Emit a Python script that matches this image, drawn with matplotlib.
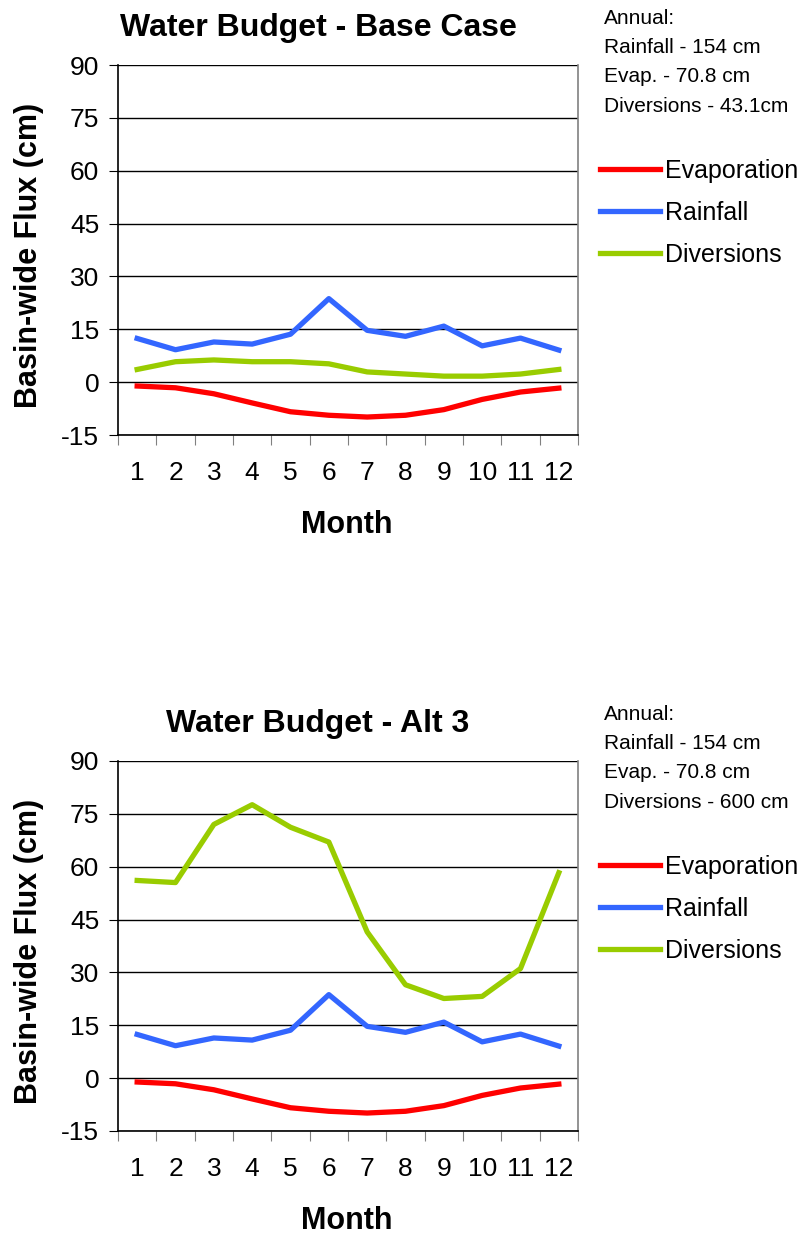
import numpy as np
import matplotlib
matplotlib.use('Agg')
import matplotlib.pyplot as plt

plt.rcParams['font.family'] = ['Liberation Sans', 'DejaVu Sans']

#---------------- data ----------------
months = np.arange(1, 13)
month_labels = [str(m) for m in months]
evaporation = [-1.1, -1.6, -3.3, -5.9, -8.4, -9.4, -9.9, -9.4, -7.8, -4.9, -2.8, -1.7]
rainfall = [12.4, 9.2, 11.4, 10.8, 13.6, 23.7, 14.7, 13.0, 15.9, 10.3, 12.5, 9.1]
diversions_base = [3.6, 5.8, 6.3, 5.8, 5.8, 5.2, 2.9, 2.3, 1.7, 1.7, 2.3, 3.6]
diversions_alt3 = [56.1, 55.5, 72.0, 77.6, 71.2, 67.0, 41.5, 26.5, 22.6, 23.2, 31.1, 58.3]
yticks = [-15, 0, 15, 30, 45, 60, 75, 90]

titles = ['Water Budget - Base Case', 'Water Budget - Alt 3']
notes = [['Annual:', 'Rainfall - 154 cm', 'Evap. - 70.8 cm', 'Diversions - 43.1cm'],
         ['Annual:', 'Rainfall - 154 cm', 'Evap. - 70.8 cm', 'Diversions - 600 cm']]
diversions = [diversions_base, diversions_alt3]

red = '#FF0000'
blue = '#3366FF'
green = '#99CC00'

W, H = 802, 1237
fig = plt.figure(figsize=(W / 100, H / 100), dpi=100)

tops = [65, 761]   # pixel y of the 90 gridline
for k in range(2):
    top = tops[k]
    ax = fig.add_axes([118 / W, 1 - (top + 370) / H, 460 / W, 370 / H])
    l1, = ax.plot(months, evaporation, color=red, lw=3.8, solid_joinstyle='round')
    l2, = ax.plot(months, rainfall, color=blue, lw=3.8, solid_joinstyle='round')
    l3, = ax.plot(months, diversions[k], color=green, lw=3.8, solid_joinstyle='round')

    ax.set_xlim(0.5, 12.5)
    ax.set_ylim(-15, 90)
    ax.set_yticks(yticks)
    ax.set_yticklabels([str(v) for v in yticks], fontsize=19)
    ax.yaxis.grid(True, color='black', lw=1.0)
    ax.set_axisbelow(True)
    ax.set_xticks(np.arange(0.5, 13, 1))
    ax.set_xticklabels([])
    ax.set_xticks(months, minor=True)
    ax.set_xticklabels(month_labels, minor=True, fontsize=19)
    ax.tick_params(axis='x', which='major', direction='out', length=7, color='#808080')
    ax.tick_params(axis='x', which='minor', length=0, pad=19)
    ax.tick_params(axis='y', direction='out', length=6.5, pad=7, color='black')
    ax.spines['top'].set_visible(False)
    ax.spines['right'].set_color('#808080')
    ax.spines['left'].set_color('black')
    ax.spines['bottom'].set_color('black')
    for s in ax.spines.values():
        s.set_linewidth(1.2)

    fig.text(318 / W, 1 - (top - 37) / H, titles[k], ha='center', va='center',
             fontsize=23, fontweight='bold')
    fig.text(29 / W, 1 - (top + 190) / H, 'Basin-wide Flux (cm)', ha='center', va='center',
             rotation=90, fontsize=22, fontweight='bold')
    fig.text(347 / W, 1 - (top + 460) / H, 'Month', ha='center', va='center',
             fontsize=22, fontweight='bold')

    for i, line in enumerate(notes[k]):
        fig.text(604 / W, 1 - (top - 47 + i * 29.5) / H, line, ha='left', va='center', fontsize=15)

    fig.legend([l1, l2, l3], ['Evaporation', 'Rainfall', 'Diversions'],
               loc='upper left', bbox_to_anchor=(600 / W, 1 - (top + 94) / H),
               frameon=False, fontsize=18, handlelength=2.4, handletextpad=0.2,
               labelspacing=0.72, borderaxespad=0, borderpad=0)

fig.savefig('out.png', dpi=100)
